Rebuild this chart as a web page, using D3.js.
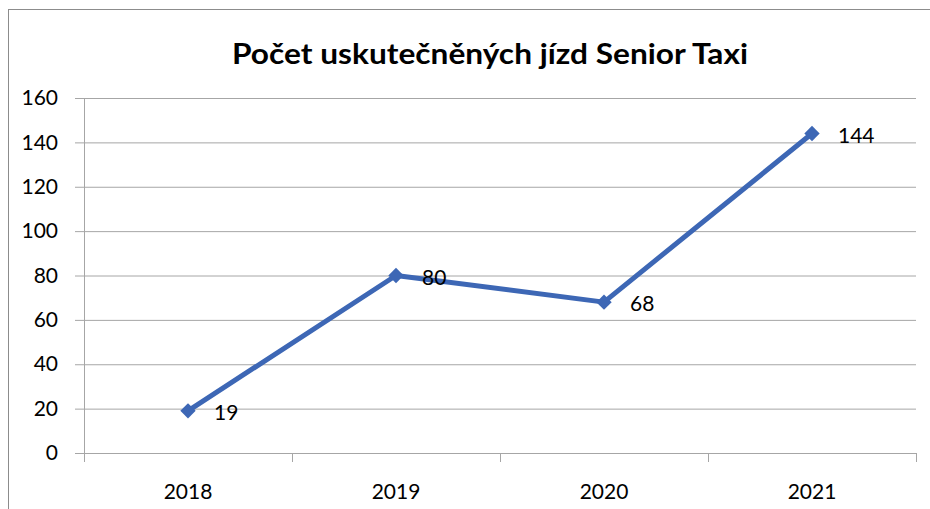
<!DOCTYPE html>
<html>
<head>
<meta charset="utf-8">
<title>Počet uskutečněných jízd Senior Taxi</title>
<script src="https://d3js.org/d3.v7.min.js"></script>
<style>
    body {
        margin: 0;
        overflow: hidden;
        background: #fff;
    }
    text {
        font-family: Lato, "Open Sans", sans-serif;
        fill: #000;
    }
</style>
</head>
<body>
<script>
    const years = ["2018", "2019", "2020", "2021"];
    const rides = [19, 80, 68, 144];
    const yTicks = [0, 20, 40, 60, 80, 100, 120, 140, 160];
    const title = "Počet uskutečněných jízd Senior Taxi";

    const width = 930;
    const height = 509;
    const margin = {top: 98, right: 14, bottom: 56, left: 84};

    const svg = d3.select("body")
        .append("svg")
        .attr("width", width)
        .attr("height", height);

    // outer chart frame
    svg.append("rect")
        .attr("x", 8.5)
        .attr("y", 9.5)
        .attr("width", width + 20)
        .attr("height", height + 20)
        .attr("fill", "none")
        .attr("stroke", "#8c8c8c");

    svg.append("text")
        .attr("x", 490)
        .attr("y", 64)
        .attr("text-anchor", "middle")
        .attr("textLength", 516)
        .attr("lengthAdjust", "spacingAndGlyphs")
        .style("font-size", "28px")
        .style("font-weight", "700")
        .text(title);

    const x = d3.scaleBand()
        .domain(years)
        .range([margin.left, width - margin.right]);

    const y = d3.scaleLinear()
        .domain([0, 160])
        .range([height - margin.bottom, margin.top]);

    // gridlines + y labels
    const yAxis = svg.append("g")
        .attr("transform", "translate(" + margin.left + ",0)")
        .call(d3.axisLeft(y)
            .tickValues(yTicks)
            .tickSize(-(width - margin.right - margin.left))
            .tickPadding(26));
    yAxis.select(".domain").remove();
    yAxis.selectAll(".tick line")
        .attr("stroke", "#a6a6a6")
        .attr("x1", -9);
    yAxis.selectAll(".tick text")
        .style("font-size", "21px")
        .style("font-family", "Lato, 'Open Sans', sans-serif")
        .attr("fill", "#000");

    // vertical axis line
    svg.append("line")
        .attr("x1", margin.left + 0.5)
        .attr("x2", margin.left + 0.5)
        .attr("y1", y(160))
        .attr("y2", y(0))
        .attr("stroke", "#a6a6a6");

    // x axis with ticks at category boundaries
    const bounds = years.map(function(d) { return x(d); }).concat([x(years[years.length - 1]) + x.bandwidth()]);
    svg.append("g")
        .selectAll("line")
        .data(bounds)
        .join("line")
        .attr("x1", function(d) { return Math.round(d) + 0.5; })
        .attr("x2", function(d) { return Math.round(d) + 0.5; })
        .attr("y1", y(0))
        .attr("y2", y(0) + 9)
        .attr("stroke", "#a6a6a6");

    svg.append("g")
        .selectAll("text")
        .data(years)
        .join("text")
        .attr("x", function(d) { return x(d) + x.bandwidth() / 2; })
        .attr("y", 499)
        .attr("text-anchor", "middle")
        .style("font-size", "21px")
        .text(function(d) { return d; });

    const pts = years.map(function(d, i) { return {year: d, value: rides[i]}; });

    const line = d3.line()
        .x(function(d) { return x(d.year) + x.bandwidth() / 2; })
        .y(function(d) { return y(d.value); });

    svg.append("path")
        .datum(pts)
        .attr("d", line)
        .attr("fill", "none")
        .attr("stroke", "#3d67b5")
        .attr("stroke-width", 5)
        .attr("stroke-linejoin", "round");

    svg.append("g")
        .selectAll("path")
        .data(pts)
        .join("path")
        .attr("d", d3.symbol().type(d3.symbolDiamond2).size(150))
        .attr("transform", function(d) { return "translate(" + (x(d.year) + x.bandwidth() / 2) + "," + y(d.value) + ")"; })
        .attr("fill", "#3d67b5");

    svg.append("g")
        .selectAll("text")
        .data(pts)
        .join("text")
        .attr("x", function(d) { return x(d.year) + x.bandwidth() / 2 + 26; })
        .attr("y", function(d) { return y(d.value) + 9; })
        .style("font-size", "21px")
        .text(function(d) { return d.value; });
</script>
</body>
</html>
